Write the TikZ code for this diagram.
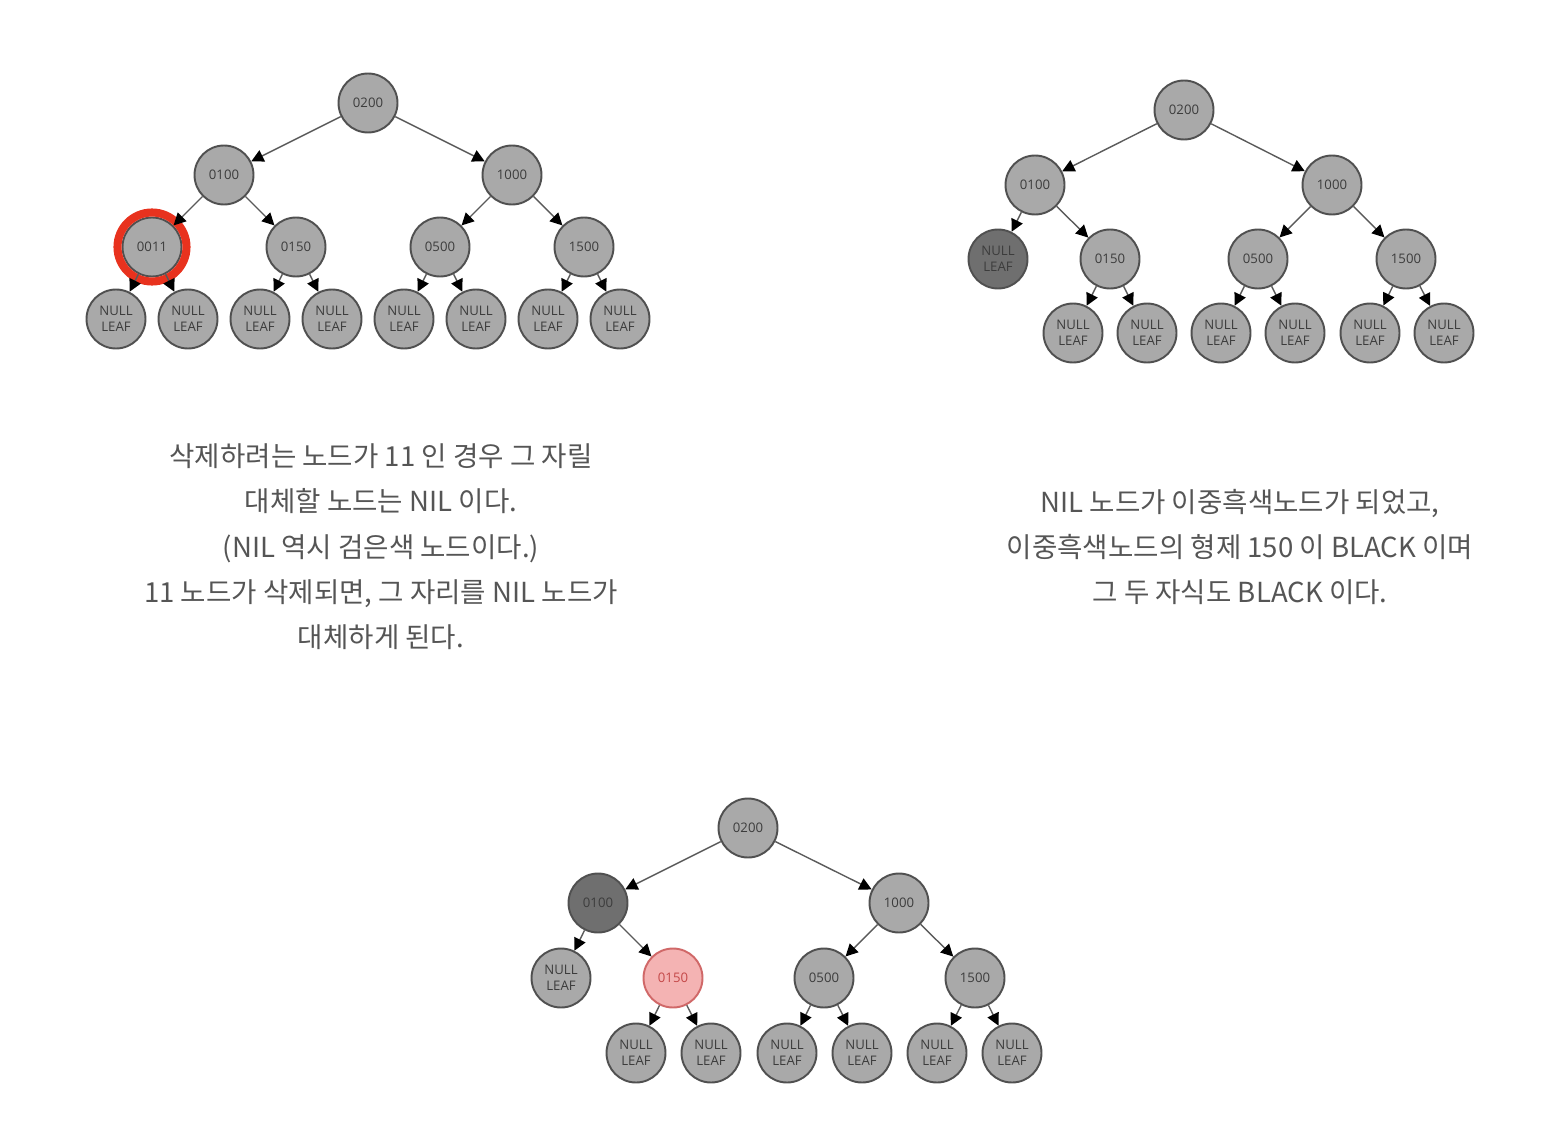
\documentclass[tikz,border=0pt]{standalone}
\usepackage{fontspec}
\newfontfamily\kr{Noto Sans CJK KR}
\newfontfamily\nodefont{Open Sans}
\usetikzlibrary{arrows.meta}
\definecolor{nodegrey}{HTML}{A9A9A9}
\definecolor{nodedark}{HTML}{6F6F6F}
\definecolor{nodeedge}{HTML}{505050}
\definecolor{nodetext}{HTML}{3C3C3C}
\definecolor{linkgrey}{HTML}{5A5A5A}
\definecolor{pinkfill}{HTML}{F4B3B3}
\definecolor{pinkedge}{HTML}{D06868}
\definecolor{pinktext}{HTML}{C44848}
\definecolor{ringred}{HTML}{E8321E}
\definecolor{captext}{HTML}{555555}

\tikzset{
    rbnode/.style={circle, draw=nodeedge, fill=nodegrey, line width=1.1pt,
        minimum size=1.18cm, inner sep=0pt, text=nodetext, align=center,
        font=\nodefont\fontsize{7.5pt}{8.8pt}\selectfont},
    leafnode/.style={rbnode},
    darknode/.style={rbnode, fill=nodedark},
    pinknode/.style={rbnode, fill=pinkfill, draw=pinkedge, text=pinktext},
    link/.style={draw=linkgrey, line width=0.8pt,
        -{Triangle[length=7pt,width=7pt,color=black]}},
    caption/.style={align=center, text=captext, inner sep=0pt,
        font=\kr\fontsize{15.7pt}{25.8pt}\selectfont},
}

\begin{document}
\begin{tikzpicture}[x=0.02cm, y=-0.02cm]
    \useasboundingbox (0,0) rectangle (1548,1142);

    % tree 1: 11 to be deleted
    \node[rbnode] (a-root) at (368,103) {0200};
    \node[rbnode] (a-l) at (224,175) {0100};
    \node[rbnode] (a-r) at (512,175) {1000};
    \node[rbnode] (a-n1) at (152,247) {0011};
    \node[rbnode] (a-n2) at (296,247) {0150};
    \node[rbnode] (a-n3) at (440,247) {0500};
    \node[rbnode] (a-n4) at (584,247) {1500};
    \foreach \x [count=\i] in {116,188,260,332,404,476,548,620} {
        \node[leafnode] (a-f\i) at (\x,319) {NULL\\LEAF};
    }
    \draw[ringred, line width=4.6pt] (a-n1.center) circle (34.5);
    \draw[link] (a-root) -- (a-l);
    \draw[link] (a-root) -- (a-r);
    \draw[link] (a-l) -- (a-n1);
    \draw[link] (a-l) -- (a-n2);
    \draw[link] (a-r) -- (a-n3);
    \draw[link] (a-r) -- (a-n4);
    \foreach \i in {1,...,8} {
        \pgfmathtruncatemacro\p{(\i+1)/2}
        \draw[link] (a-n\p) -- (a-f\i);
    }

    % tree 2: NIL is doubly black
    \node[rbnode] (b-root) at (1184,110) {0200};
    \node[rbnode] (b-l) at (1035,185) {0100};
    \node[rbnode] (b-r) at (1332,185) {1000};
    \node[darknode] (b-nil) at (998,259) {NULL\\LEAF};
    \node[rbnode] (b-n2) at (1110,259) {0150};
    \node[rbnode] (b-n3) at (1258,259) {0500};
    \node[rbnode] (b-n4) at (1406,259) {1500};
    \foreach \x [count=\i] in {1073,1147,1221,1295,1370,1444} {
        \node[leafnode] (b-f\i) at (\x,333) {NULL\\LEAF};
    }
    \draw[link] (b-root) -- (b-l);
    \draw[link] (b-root) -- (b-r);
    \draw[link] (b-l) -- (b-nil);
    \draw[link] (b-l) -- (b-n2);
    \draw[link] (b-r) -- (b-n3);
    \draw[link] (b-r) -- (b-n4);
    \foreach \i in {1,...,6} {
        \pgfmathtruncatemacro\p{(\i+1)/2+1}
        \draw[link] (b-n\p) -- (b-f\i);
    }

    % tree 3: sibling turns red
    \node[rbnode] (c-root) at (748,828) {0200};
    \node[darknode] (c-l) at (598,903) {0100};
    \node[rbnode] (c-r) at (899,903) {1000};
    \node[leafnode] (c-nil) at (561,978) {NULL\\LEAF};
    \node[pinknode] (c-n2) at (673,978) {0150};
    \node[rbnode] (c-n3) at (824,978) {0500};
    \node[rbnode] (c-n4) at (975,978) {1500};
    \foreach \x [count=\i] in {636,711,787,862,937,1012} {
        \node[leafnode] (c-f\i) at (\x,1053) {NULL\\LEAF};
    }
    \draw[link] (c-root) -- (c-l);
    \draw[link] (c-root) -- (c-r);
    \draw[link] (c-l) -- (c-nil);
    \draw[link] (c-l) -- (c-n2);
    \draw[link] (c-r) -- (c-n3);
    \draw[link] (c-r) -- (c-n4);
    \foreach \i in {1,...,6} {
        \pgfmathtruncatemacro\p{(\i+1)/2+1}
        \draw[link] (c-n\p) -- (c-f\i);
    }

    % captions
    \node[caption] (cap-a) at (381,547) {삭제하려는 노드가 11 인 경우 그 자릴\\대체할 노드는 NIL 이다.\\(NIL 역시 검은색 노드이다.)\\11 노드가 삭제되면, 그 자리를 NIL 노드가\\대체하게 된다.};
    \node[caption] (cap-b) at (1240,547) {NIL 노드가 이중흑색노드가 되었고,\\이중흑색노드의 형제 150 이 BLACK 이며\\그 두 자식도 BLACK 이다.};
\end{tikzpicture}
\end{document}
